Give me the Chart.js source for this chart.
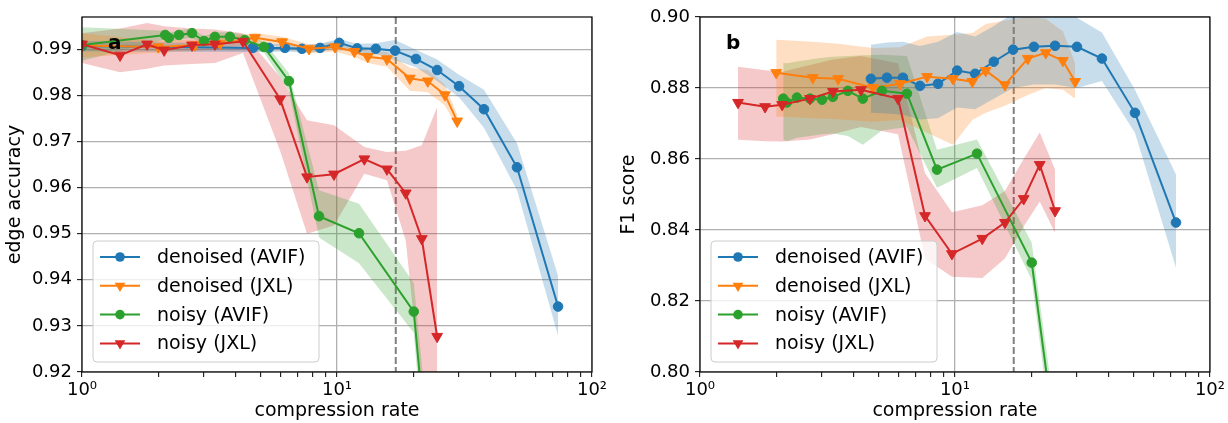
<!DOCTYPE html>
<html>
<head>
<meta charset="utf-8">
<script src="https://cdn.jsdelivr.net/npm/chart.js@4.4.1/dist/chart.umd.min.js"></script>
<style>
  html, body { margin: 0; padding: 0; background: #ffffff; }
  #wrap { position: relative; width: 1228px; height: 423px; overflow: hidden; }
  .panel { position: absolute; top: 0; width: 614px; height: 423px; }
</style>
</head>
<body>
<div id="wrap">
  <div class="panel" style="left:0px"><canvas id="chartA" width="614" height="423"></canvas></div>
  <div class="panel" style="left:614px"><canvas id="chartB" width="614" height="423"></canvas></div>
</div>
<script>
// ================= DATA =================
// ---- panel a : edge accuracy vs compression rate ----
const rateA_denoisedAVIF = [1.0, 4.68, 5.41, 6.25, 7.29, 8.58, 10.2, 12.0, 14.2, 16.9, 20.4, 24.7, 30.1, 37.7, 50.8, 73.6];
const edge_denoisedAVIF    = [0.9907, 0.9903, 0.9903, 0.9903, 0.9901, 0.9903, 0.9914, 0.9902, 0.9901, 0.9897, 0.9879, 0.9855, 0.9820, 0.9770, 0.9644, 0.9342];
const edge_denoisedAVIF_lo = [0.9895, 0.9894, 0.9894, 0.9895, 0.9893, 0.9894, 0.9905, 0.9893, 0.9890, 0.9877, 0.9861, 0.9831, 0.9796, 0.9730, 0.9594, 0.9279];
const edge_denoisedAVIF_hi = [0.9918, 0.9912, 0.9912, 0.9911, 0.9909, 0.9912, 0.9923, 0.9912, 0.9913, 0.9920, 0.9899, 0.9878, 0.9845, 0.9812, 0.9696, 0.9409];

const rateA_denoisedJXL = [1.0, 1.99, 2.77, 3.48, 4.77, 6.09, 7.77, 9.82, 11.7, 13.2, 15.7, 19.3, 22.7, 26.5, 29.6];
const edge_denoisedJXL    = [0.9908, 0.9905, 0.9909, 0.9912, 0.9925, 0.9916, 0.9901, 0.9905, 0.9895, 0.9884, 0.9879, 0.9837, 0.9831, 0.9801, 0.9744];
const edge_denoisedJXL_lo = [0.9882, 0.9893, 0.9897, 0.9900, 0.9913, 0.9905, 0.9891, 0.9895, 0.9883, 0.9870, 0.9862, 0.9810, 0.9807, 0.9778, 0.9730];
const edge_denoisedJXL_hi = [0.9935, 0.9918, 0.9921, 0.9924, 0.9936, 0.9927, 0.9911, 0.9915, 0.9906, 0.9897, 0.9894, 0.9860, 0.9855, 0.9823, 0.9758];

const rateA_noisyAVIF = [1.0, 2.12, 2.19, 2.40, 2.70, 3.01, 3.32, 3.80, 4.35, 5.17, 6.48, 8.50, 12.2, 20.0, 24.7];
const edge_noisyAVIF    = [0.9909, 0.9931, 0.9925, 0.9931, 0.9935, 0.9918, 0.9927, 0.9927, 0.9920, 0.9905, 0.9831, 0.9538, 0.9501, 0.9331, 0.8790];
const edge_noisyAVIF_lo = [0.9875, 0.9921, 0.9915, 0.9921, 0.9925, 0.9908, 0.9917, 0.9917, 0.9908, 0.9893, 0.9810, 0.9492, 0.9436, 0.9285, 0.8700];
const edge_noisyAVIF_hi = [0.9948, 0.9940, 0.9935, 0.9941, 0.9945, 0.9928, 0.9937, 0.9937, 0.9932, 0.9917, 0.9848, 0.9594, 0.9565, 0.9393, 0.8880];

const rateA_noisyJXL = [1.0, 1.41, 1.80, 2.10, 2.70, 3.32, 4.28, 5.98, 7.63, 9.73, 12.8, 15.7, 18.6, 21.5, 24.7];
const edge_noisyJXL    = [0.9911, 0.9887, 0.9911, 0.9898, 0.9909, 0.9911, 0.9917, 0.9792, 0.9623, 0.9629, 0.9662, 0.9640, 0.9588, 0.9489, 0.9277];
const edge_noisyJXL_lo = [0.9870, 0.9850, 0.9858, 0.9865, 0.9868, 0.9870, 0.9892, 0.9680, 0.9500, 0.9518, 0.9630, 0.9616, 0.9485, 0.9150, 0.9000];
const edge_noisyJXL_hi = [0.9935, 0.9945, 0.9957, 0.9950, 0.9945, 0.9943, 0.9935, 0.9840, 0.9746, 0.9735, 0.9688, 0.9677, 0.9680, 0.9692, 0.9775];

// ---- panel b : F1 score vs compression rate ----
const rateB_denoisedAVIF = [4.68, 5.41, 6.25, 7.29, 8.58, 10.2, 12.0, 14.2, 16.9, 20.4, 24.7, 30.1, 37.7, 50.8, 73.6];
const f1_denoisedAVIF    = [0.8826, 0.8829, 0.8829, 0.8806, 0.8812, 0.8849, 0.8840, 0.8874, 0.8908, 0.8916, 0.8919, 0.8916, 0.8883, 0.8730, 0.8421];
const f1_denoisedAVIF_lo = [0.8730, 0.8728, 0.8725, 0.8711, 0.8715, 0.8745, 0.8740, 0.8770, 0.8800, 0.8810, 0.8810, 0.8800, 0.8820, 0.8674, 0.8294];
const f1_denoisedAVIF_hi = [0.8922, 0.8928, 0.8930, 0.8918, 0.8930, 0.8958, 0.8945, 0.8975, 0.9010, 0.9020, 0.9030, 0.8998, 0.8956, 0.8795, 0.8556];

const rateB_denoisedJXL = [1.99, 2.77, 3.48, 4.77, 6.09, 7.77, 9.82, 11.7, 13.2, 15.7, 19.3, 22.7, 26.5, 29.6];
const f1_denoisedJXL    = [0.8843, 0.8829, 0.8826, 0.8801, 0.8812, 0.8832, 0.8826, 0.8818, 0.8849, 0.8809, 0.8883, 0.8899, 0.8877, 0.8818];
const f1_denoisedJXL_lo = [0.8720, 0.8715, 0.8712, 0.8705, 0.8710, 0.8674, 0.8640, 0.8710, 0.8730, 0.8750, 0.8780, 0.8800, 0.8795, 0.8770];
const f1_denoisedJXL_hi = [0.8936, 0.8930, 0.8925, 0.8913, 0.8915, 0.8945, 0.8950, 0.8955, 0.8980, 0.8990, 0.9000, 0.8995, 0.8960, 0.8870];

const rateB_noisyAVIF = [2.12, 2.19, 2.40, 2.70, 3.01, 3.32, 3.80, 4.35, 5.17, 6.48, 8.50, 12.2, 20.0, 24.7];
const f1_noisyAVIF    = [0.8770, 0.8759, 0.8773, 0.8770, 0.8767, 0.8775, 0.8792, 0.8770, 0.8792, 0.8784, 0.8570, 0.8615, 0.8308, 0.7815];
const f1_noisyAVIF_lo = [0.8655, 0.8650, 0.8660, 0.8665, 0.8670, 0.8672, 0.8665, 0.8640, 0.8680, 0.8690, 0.8519, 0.8575, 0.8260, 0.7750];
const f1_noisyAVIF_hi = [0.8871, 0.8870, 0.8875, 0.8880, 0.8885, 0.8888, 0.8890, 0.8892, 0.8894, 0.8890, 0.8626, 0.8655, 0.8364, 0.7880];

const rateB_noisyJXL = [1.41, 1.80, 2.10, 2.70, 3.32, 4.28, 5.98, 7.63, 9.73, 12.8, 15.7, 18.6, 21.5, 24.7];
const f1_noisyJXL    = [0.8759, 0.8747, 0.8753, 0.8770, 0.8790, 0.8795, 0.8770, 0.8440, 0.8333, 0.8376, 0.8421, 0.8488, 0.8584, 0.8454];
const f1_noisyJXL_lo = [0.8654, 0.8650, 0.8649, 0.8655, 0.8670, 0.8690, 0.8670, 0.8320, 0.8268, 0.8265, 0.8320, 0.8410, 0.8480, 0.8392];
const f1_noisyJXL_hi = [0.8860, 0.8850, 0.8846, 0.8865, 0.8880, 0.8890, 0.8870, 0.8560, 0.8450, 0.8470, 0.8510, 0.8600, 0.8675, 0.8570];

// ---- axes ----
const xTicks = [1,2,3,4,5,6,7,8,9,10,20,30,40,50,60,70,80,90,100];
const xTickLabels = {1: '10\u2070', 10: '10\u00B9', 100: '10\u00B2'};
const yTicksA = [0.92, 0.93, 0.94, 0.95, 0.96, 0.97, 0.98, 0.99];
const yTicksB = [0.80, 0.82, 0.84, 0.86, 0.88, 0.90];
const markerRate = 17;   // dashed reference line
const seriesNames = ['denoised (AVIF)', 'denoised (JXL)', 'noisy (AVIF)', 'noisy (JXL)'];

// ================= STYLE =================
const FONT = 'DejaVu Sans';
const COLORS = ['#1f77b4', '#ff7f0e', '#2ca02c', '#d62728'];
const MARKERS = ['circle', 'triangle', 'circle', 'triangle'];

function hexA(hex, a) {
  const n = parseInt(hex.slice(1), 16);
  return `rgba(${(n >> 16) & 255},${(n >> 8) & 255},${n & 255},${a})`;
}
function pts(xs, ys) { return xs.map((x, i) => ({ x: x, y: ys[i] })); }

function buildDatasets(list) {
  const ds = [];
  list.forEach((s, k) => {
    const color = COLORS[k];
    ds.push({ label: '_lo' + k, data: pts(s.x, s.lo), borderWidth: 0, borderColor: 'rgba(0,0,0,0)',
              pointRadius: 0, pointHoverRadius: 0, fill: false, order: 20, tension: 0 });
    ds.push({ label: '_hi' + k, data: pts(s.x, s.hi), borderWidth: 0, borderColor: 'rgba(0,0,0,0)',
              pointRadius: 0, pointHoverRadius: 0, fill: '-1', backgroundColor: hexA(color, 0.25), order: 20, tension: 0 });
  });
  list.forEach((s, k) => {
    const color = COLORS[k];
    const tri = MARKERS[k] === 'triangle';
    ds.push({ label: seriesNames[k], data: pts(s.x, s.y), borderColor: color, backgroundColor: color,
              borderWidth: 2, pointStyle: MARKERS[k], pointRotation: tri ? 180 : 0,
              pointRadius: tri ? 6.2 : 4.8, pointBorderWidth: 1, pointBorderColor: color, pointBackgroundColor: color,
              fill: false, tension: 0, order: 4 - k });
  });
  return ds;
}

const overlayPlugin = {
  id: 'overlay',
  beforeDatasetsDraw(chart) {
    const { ctx, chartArea: a, scales } = chart;
    const x = scales.x.getPixelForValue(markerRate);
    ctx.save();
    ctx.strokeStyle = '#808080';
    ctx.lineWidth = 2;
    ctx.setLineDash([7, 3]);
    ctx.beginPath();
    ctx.moveTo(x, a.top);
    ctx.lineTo(x, a.bottom);
    ctx.stroke();
    ctx.restore();
  },
  afterDraw(chart, args, opts) {
    const { ctx, chartArea: a } = chart;
    ctx.save();
    // frame
    ctx.strokeStyle = '#000';
    ctx.lineWidth = 1.2;
    ctx.strokeRect(a.left, a.top, a.right - a.left, a.bottom - a.top);
    // panel letter
    ctx.fillStyle = '#000';
    ctx.font = `bold 20px "${FONT}"`;
    ctx.textAlign = 'left';
    ctx.textBaseline = 'middle';
    ctx.fillText(opts.letter, a.left + 26, a.top + 27);
    // legend
    const x0 = a.left + 11, y1 = a.bottom - 10, w = 226, h = 121, y0 = y1 - h, r = 4;
    ctx.beginPath();
    ctx.moveTo(x0 + r, y0);
    ctx.lineTo(x0 + w - r, y0); ctx.quadraticCurveTo(x0 + w, y0, x0 + w, y0 + r);
    ctx.lineTo(x0 + w, y1 - r); ctx.quadraticCurveTo(x0 + w, y1, x0 + w - r, y1);
    ctx.lineTo(x0 + r, y1); ctx.quadraticCurveTo(x0, y1, x0, y1 - r);
    ctx.lineTo(x0, y0 + r); ctx.quadraticCurveTo(x0, y0, x0 + r, y0);
    ctx.closePath();
    ctx.fillStyle = 'rgba(255,255,255,0.8)';
    ctx.fill();
    ctx.strokeStyle = '#cccccc';
    ctx.lineWidth = 1;
    ctx.stroke();
    seriesNames.forEach((name, k) => {
      const cy = y0 + 16 + k * 28.8;
      ctx.strokeStyle = COLORS[k];
      ctx.fillStyle = COLORS[k];
      ctx.lineWidth = 2;
      ctx.beginPath();
      ctx.moveTo(x0 + 7, cy);
      ctx.lineTo(x0 + 47, cy);
      ctx.stroke();
      const mx = x0 + 27;
      ctx.beginPath();
      if (MARKERS[k] === 'circle') {
        ctx.arc(mx, cy, 4.8, 0, Math.PI * 2);
      } else {
        const R = 6.2;
        ctx.moveTo(mx, cy + R);
        ctx.lineTo(mx - R * Math.sin(Math.PI / 3), cy - R / 2);
        ctx.lineTo(mx + R * Math.sin(Math.PI / 3), cy - R / 2);
        ctx.closePath();
      }
      ctx.fill();
      ctx.fillStyle = '#000';
      ctx.font = `19px "${FONT}"`;
      ctx.textBaseline = 'middle';
      ctx.fillText(name, x0 + 64, cy + 1);
    });
    ctx.restore();
  }
};

function makeChart(canvasId, list, yMin, yMax, yTicks, yDigits, yTitle, yAxisWidth, rightPad, letter) {
  const tickFont = { family: FONT, size: 18 };
  const titleFont = { family: FONT, size: 19 };
  return new Chart(document.getElementById(canvasId), {
    type: 'line',
    data: { datasets: buildDatasets(list) },
    options: {
      responsive: false,
      animation: false,
      devicePixelRatio: 1,
      events: [],
      layout: { padding: { left: 0, right: rightPad, top: 17, bottom: 0 } },
      plugins: {
        legend: { display: false },
        tooltip: { enabled: false },
        overlay: { letter: letter }
      },
      scales: {
        x: {
          type: 'logarithmic',
          min: 1, max: 100,
          afterBuildTicks: (s) => { s.ticks = xTicks.map(v => ({ value: v, major: xTickLabels[v] !== undefined })); },
          afterFit: (s) => { s.height = 51; },
          ticks: {
            autoSkip: false, maxRotation: 0, minRotation: 0, padding: 3,
            color: '#000', font: tickFont,
            callback: (v) => xTickLabels[v] !== undefined ? xTickLabels[v] : ''
          },
          grid: {
            color: (c) => (c.tick && xTickLabels[c.tick.value] !== undefined) ? '#b0b0b0' : 'rgba(0,0,0,0)',
            lineWidth: 1.3,
            drawTicks: true, tickLength: 5, tickColor: '#000', tickWidth: 1
          },
          border: { display: false },
          title: { display: true, text: 'compression rate', color: '#000', font: titleFont, padding: { top: 0, bottom: 1 } }
        },
        y: {
          type: 'linear',
          min: yMin, max: yMax,
          afterBuildTicks: (s) => { s.ticks = yTicks.map(v => ({ value: v })); },
          afterFit: (s) => { s.width = yAxisWidth; },
          ticks: { color: '#000', font: tickFont, padding: 5, callback: (v) => Number(v).toFixed(yDigits) },
          grid: { color: '#b0b0b0', lineWidth: 1.3, drawTicks: true, tickLength: 5, tickColor: '#000', tickWidth: 1 },
          border: { display: false },
          title: { display: true, text: yTitle, color: '#000', font: titleFont, padding: { top: 4, bottom: 0 } }
        }
      }
    },
    plugins: [overlayPlugin]
  });
}

makeChart('chartA', [
  { x: rateA_denoisedAVIF, y: edge_denoisedAVIF, lo: edge_denoisedAVIF_lo, hi: edge_denoisedAVIF_hi },
  { x: rateA_denoisedJXL,  y: edge_denoisedJXL,  lo: edge_denoisedJXL_lo,  hi: edge_denoisedJXL_hi },
  { x: rateA_noisyAVIF,    y: edge_noisyAVIF,    lo: edge_noisyAVIF_lo,    hi: edge_noisyAVIF_hi },
  { x: rateA_noisyJXL,     y: edge_noisyJXL,     lo: edge_noisyJXL_lo,     hi: edge_noisyJXL_hi }
], 0.92, 0.997, yTicksA, 2, 'edge accuracy', 82, 22, 'a');

makeChart('chartB', [
  { x: rateB_denoisedAVIF, y: f1_denoisedAVIF, lo: f1_denoisedAVIF_lo, hi: f1_denoisedAVIF_hi },
  { x: rateB_denoisedJXL,  y: f1_denoisedJXL,  lo: f1_denoisedJXL_lo,  hi: f1_denoisedJXL_hi },
  { x: rateB_noisyAVIF,    y: f1_noisyAVIF,    lo: f1_noisyAVIF_lo,    hi: f1_noisyAVIF_hi },
  { x: rateB_noisyJXL,     y: f1_noisyJXL,     lo: f1_noisyJXL_lo,     hi: f1_noisyJXL_hi }
], 0.80, 0.90, yTicksB, 2, 'F1 score', 86, 18, 'b');
</script>
</body>
</html>
